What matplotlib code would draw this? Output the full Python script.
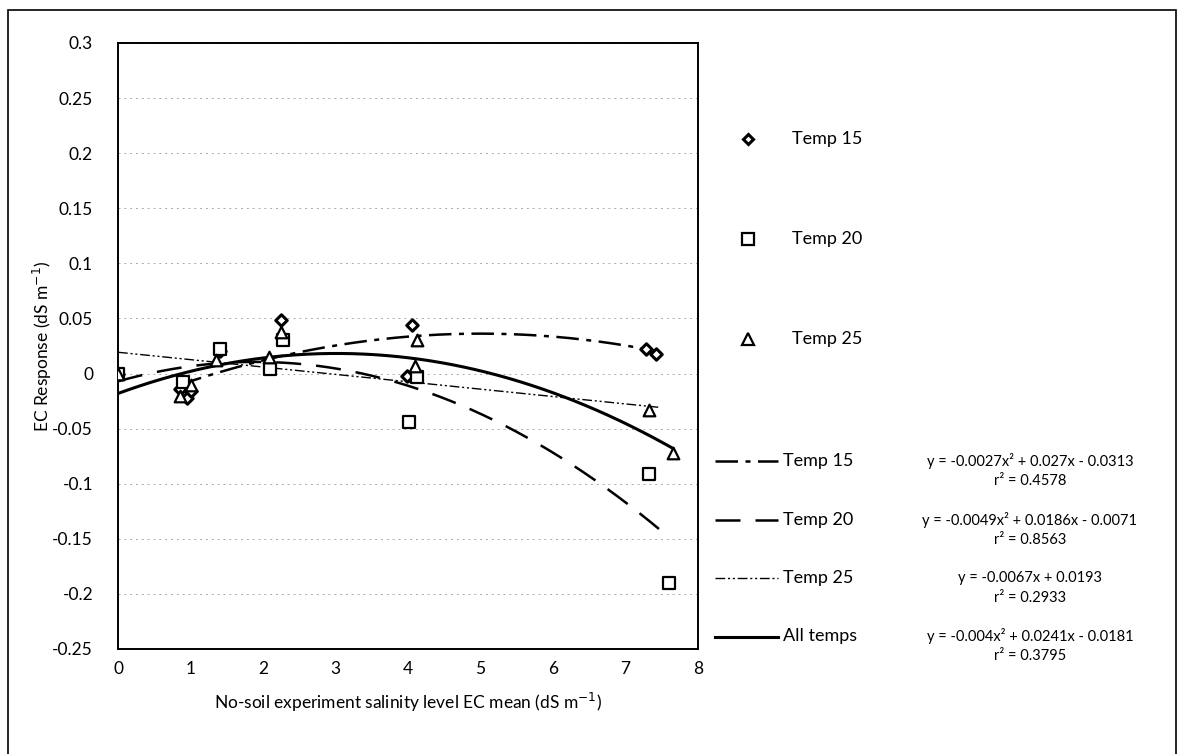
import numpy as np
import matplotlib
matplotlib.use("Agg")
import matplotlib.pyplot as plt
from matplotlib.lines import Line2D
from matplotlib.patches import Rectangle

plt.rcParams['font.family'] = ['Lato', 'DejaVu Sans']

t15_x = [0, 0.85, 0.95, 1.0, 1.4, 2.25, 3.98, 4.05, 7.28, 7.42]
t15_y = [0, -0.014, -0.022, -0.016, 0.02, 0.049, -0.002, 0.044, 0.022, 0.018]
t20_x = [0, 0.9, 1.4, 2.1, 2.28, 4.01, 4.12, 7.32, 7.6]
t20_y = [0, -0.008, 0.022, 0.004, 0.03, -0.044, -0.003, -0.091, -0.19]
t25_x = [0, 0.85, 1.0, 1.35, 2.08, 2.25, 4.1, 4.12, 7.32, 7.65]
t25_y = [0, -0.02, -0.01, 0.012, 0.015, 0.038, 0.007, 0.03, -0.033, -0.072]

# trendline coefficients (a, b, c) -> a*x^2 + b*x + c, with x range
fit_names = ['Temp 15', 'Temp 20', 'Temp 25', 'All temps']
fit_coefs = [(-0.0027, 0.027, -0.0313), (-0.0049, 0.0186, -0.0071),
             (0.0, -0.0067, 0.0193), (-0.004, 0.0241, -0.0181)]
fit_ranges = [(0.85, 7.45), (0, 7.6), (0, 7.45), (0, 7.65)]
fit_eqs = ['y = -0.0027x² + 0.027x - 0.0313', 'y = -0.0049x² + 0.0186x - 0.0071',
           'y = -0.0067x + 0.0193', 'y = -0.004x² + 0.0241x - 0.0181']
fit_r2 = ['r² = 0.4578', 'r² = 0.8563', 'r² = 0.2933', 'r² = 0.3795']

styles = [
    dict(color='black', lw=1.8, dashes=(9, 3, 2, 3)),
    dict(color='black', lw=1.8, dashes=(10, 6)),
    dict(color='black', lw=1.0, dashes=(7, 2, 1.5, 2, 1.5, 2)),
    dict(color='black', lw=2.2, linestyle='-'),
]

fig = plt.figure(figsize=(11.84, 7.54), dpi=100)
ax = fig.add_axes([0.0997, 0.1393, 0.4899, 0.8037])

# outer frame
fig.add_artist(Rectangle((8 / 1184, -0.02), (1176 - 8) / 1184, 1 - 10 / 754 + 0.02,
                         transform=fig.transFigure, fill=False, lw=1.2, ec='black'))

for (a, b, c), (x0, x1), st in zip(fit_coefs, fit_ranges, styles):
    xs = np.linspace(x0, x1, 200)
    ax.plot(xs, a * xs ** 2 + b * xs + c, zorder=2, **st)

ax.scatter(t15_x, t15_y, marker='D', s=34, facecolor='white', edgecolor='black', linewidths=2.2, zorder=3)
ax.scatter(t20_x, t20_y, marker='s', s=70, facecolor='white', edgecolor='black', linewidths=1.6, zorder=3)
ax.scatter(t25_x, t25_y, marker='^', s=70, facecolor='white', edgecolor='black', linewidths=1.6, zorder=3)

ax.set_xlim(0, 8)
ax.set_ylim(-0.25, 0.3)
ax.set_xticks(range(0, 9))
ax.set_yticks(np.round(np.arange(-0.25, 0.301, 0.05), 2))
ax.set_yticklabels(['-0.25', '-0.2', '-0.15', '-0.1', '-0.05', '0', '0.05', '0.1', '0.15', '0.2', '0.25', '0.3'])
ax.tick_params(length=0, labelsize=12.5)
ax.tick_params(axis='y', pad=18)
ax.tick_params(axis='x', pad=9)
ax.grid(axis='y', color='#aaaaaa', lw=0.7, linestyle=(0, (2, 4)))
ax.set_axisbelow(True)
for s in ax.spines.values():
    s.set_linewidth(1.4)

ax.set_xlabel('No-soil experiment salinity level EC mean (dS m$^{-1}$)', fontsize=12.5, labelpad=10)
ax.set_ylabel('EC Response (dS m$^{-1}$)', fontsize=12.5, labelpad=-1)

# marker legend
mk = [('D', 5, 2.2), ('s', 8, 1.6), ('^', 8, 1.6)]
for i, (name, (m, ms, mew)) in enumerate(zip(['Temp 15', 'Temp 20', 'Temp 25'], mk)):
    yy = 1 - (139 + 100 * i) / 754
    fig.add_artist(Line2D([748 / 1184], [yy], marker=m, ms=ms, mfc='white', mec='black',
                          mew=mew, transform=fig.transFigure))
    fig.text(792 / 1184, yy, name, fontsize=13, va='center')

# trendline legend
for i, (name, st, eq, r2) in enumerate(zip(fit_names, styles, fit_eqs, fit_r2)):
    yy = 1 - (461 + 58.5 * i) / 754
    fig.add_artist(Line2D([715 / 1184, 778 / 1184], [yy, yy], transform=fig.transFigure, **st))
    fig.text(783 / 1184, yy, name, fontsize=13, va='center')
    fig.text(1030 / 1184, yy, eq, fontsize=10.5, va='center', ha='center')
    fig.text(1030 / 1184, yy - 20 / 754, r2, fontsize=10.5, va='center', ha='center')

fig.savefig('out.png', dpi=100)
